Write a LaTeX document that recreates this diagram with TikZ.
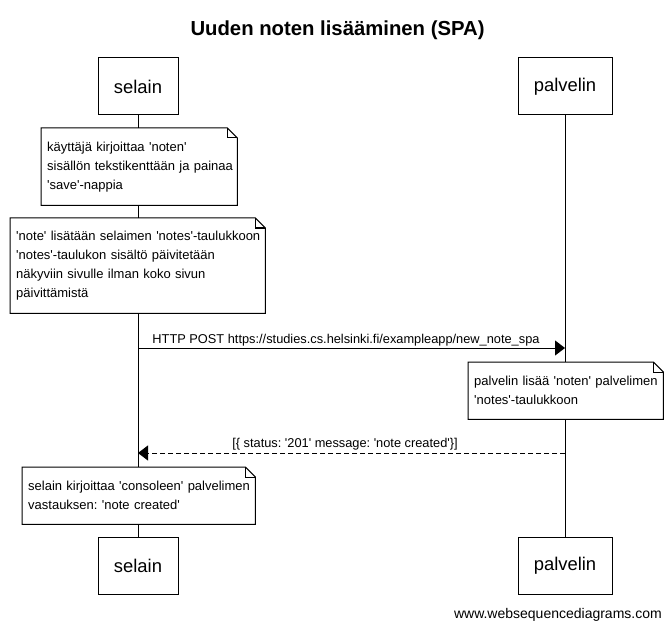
\documentclass[tikz,border=0pt]{standalone}
\usepackage{fontspec}
\setmainfont{Liberation Sans}
\usetikzlibrary{arrows.meta}
\frenchspacing
\newcommand\sq{\textquotesingle}
\newcommand\notefr[1]{%
  \draw[notefold] (#1.north west) -- ([xshift=-10pt]#1.north east) -- ([yshift=-10pt]#1.north east) -- (#1.south east) -- (#1.south west) -- cycle;
  \draw[notefold] ([xshift=-10pt]#1.north east) -- ([xshift=-10pt,yshift=-10pt]#1.north east) -- ([yshift=-10pt]#1.north east);}
\tikzset{
  every node/.style={font=\fontsize{13}{19}\selectfont},
  actor/.style={draw, line width=1pt, minimum height=57pt, inner sep=0pt, fill=white, font=\fontsize{18.4}{22}\selectfont},
  notebox/.style={fill=white, inner xsep=6pt, inner ysep=0pt, align=left, anchor=north west},
  notefold/.style={line width=1pt},
  lifeline/.style={line width=1pt},
  msg/.style={line width=1pt, -{Triangle[length=10pt,width=15pt]}},
  reply/.style={msg, dash pattern=on 5pt off 3pt},
  msglabel/.style={anchor=base, inner sep=0pt, font=\fontsize{12.8}{19}\selectfont},
  titletext/.style={anchor=base, inner sep=0pt, font=\fontsize{20.3}{24}\bfseries\selectfont},
  credit/.style={anchor=base east, inner sep=0pt, font=\fontsize{14}{17}\selectfont}
}
\begin{document}
\begin{tikzpicture}[x=1pt,y=-1pt]
\useasboundingbox[fill=white] (0,0) rectangle (671,628);
% title
\node[titletext] (title) at (337.5,36) {Uuden noten lisääminen (SPA)};
% participants
\node[actor, minimum width=80pt] (sT) at (138,86.5) {selain};
\node[actor, minimum width=94pt] (pT) at (565,86.5) {palvelin};
\node[actor, minimum width=80pt] (sB) at (138,565.5) {selain};
\node[actor, minimum width=94pt] (pB) at (565,565.5) {palvelin};
% lifelines
\draw[lifeline] (sT.south) -- (sB.north);
\draw[lifeline] (pT.south) -- (pB.north);
% notes
\node[notebox, text width=184pt, minimum height=77pt] (n1) at (41,128)
  {\mbox{käyttäjä kirjoittaa \sq noten\sq}\\\mbox{sisällön tekstikenttään ja painaa}\\\mbox{\sq save\sq-nappia}};
\notefr{n1}
\node[notebox, text width=243pt, minimum height=95pt] (n2) at (10,218)
  {\mbox{\sq note\sq\ lisätään selaimen \sq notes\sq-taulukkoon}\\\mbox{\sq notes\sq-taulukon sisältö päivitetään}\\\mbox{näkyviin sivulle ilman koko sivun}\\\mbox{päivittämistä}};
\notefr{n2}
% message 1
\coordinate (m1a) at (sT |- 0,348);
\coordinate (m1b) at (pT |- 0,348);
\draw[msg] (m1a) -- (m1b);
\node[msglabel] (l1) at (346,343) {HTTP POST https://studies.cs.helsinki.fi/exampleapp/new\_note\_spa};
\node[notebox, text width=183pt, minimum height=57pt] (n3) at (468,362)
  {\mbox{palvelin lisää \sq noten\sq\ palvelimen}\\\mbox{\sq notes\sq-taulukkoon}};
\notefr{n3}
% message 2
\coordinate (m2a) at (pT |- 0,453);
\coordinate (m2b) at (sT |- 0,453);
\draw[reply] (m2a) -- (m2b);
\node[msglabel] (l2) at (345,447) {[\{ status: \sq 201\sq\ message: \sq note created\sq\}]};
\node[notebox, text width=221pt, minimum height=57pt] (n4) at (22,467)
  {\mbox{selain kirjoittaa \sq consoleen\sq\ palvelimen}\\\mbox{vastauksen: \sq note created\sq}};
\notefr{n4}
% credit
\node[credit] (www) at (662,618) {www.websequencediagrams.com};
\end{tikzpicture}
\end{document}
